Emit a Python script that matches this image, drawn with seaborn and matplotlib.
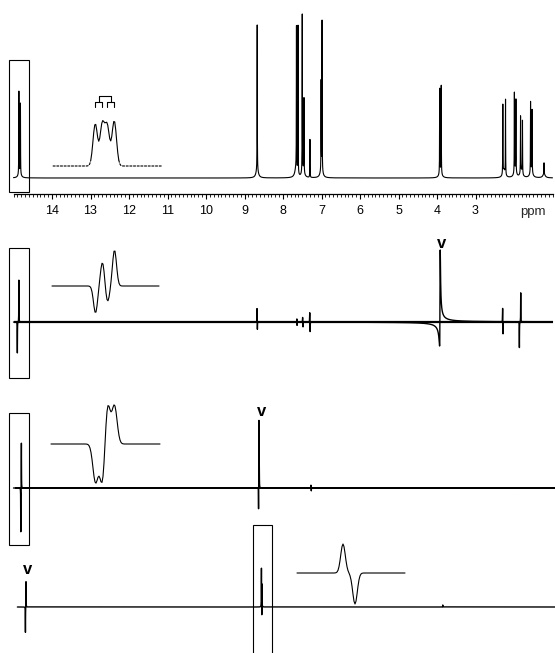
import numpy as np
import matplotlib
matplotlib.use("Agg")
import matplotlib.pyplot as plt
import seaborn as sns
from matplotlib.patches import Rectangle
from matplotlib.ticker import FixedLocator

# ---------------- data ----------------
# top trace: 1H spectrum, line positions (ppm) and heights
h1_ppm = [14.86, 14.82, 8.67, 7.65, 7.61, 7.50, 7.455, 7.30, 7.01, 6.985,
          3.93, 3.89, 2.29, 2.22, 1.99, 1.95, 1.83, 1.78, 1.57, 1.53, 1.22]
h1_int = [82, 70, 145, 142, 148, 157, 74, 38, 88, 149,
          84, 87, 69, 75, 79, 72, 56, 53, 70, 62, 11]
# broad feet under the multiplets
foot_ppm = [14.84, 8.67, 7.66, 7.48, 7.0, 3.91, 2.26, 1.97, 1.81, 1.55, 1.22]
foot_int = [6, 8, 10, 8, 9, 7, 8, 8, 7, 8, 4]

# selective experiments (signed line intensities)
sel1_ppm = [14.90, 14.86, 8.675, 8.665, 7.64, 7.635, 7.49, 7.48,
            7.305, 7.295, 2.295, 2.285, 1.86, 1.825]
sel1_int = [-31, 42, 14, -8, 4, -4, 5, -5, 10, -10, 14, -13, -26, 29]
disp_ppm, disp_int = 3.92, 72      # phase-distorted signal, marked "v"

sel2_ppm = [14.81, 14.795, 8.635, 8.625, 8.615, 7.275, 7.265]
sel2_int = [-45, 46, -25, 68, 18, 3, -3]

sel3_ppm = [14.69, 14.675, 8.56, 8.55, 8.545, 3.85]
sel3_int = [-26, 26, 39, -15, 25, 2]

# expansions of the 14.86 ppm multiplet (offset in Hz)
mult_hz = [-9.5, -2.5, 2.5, 9.5]
exp1_int = [42, 41, 39, 45]
exp2_int = [-27, 24, -16, 36]
exp3_int = [-38, -42, 42, 38]
# expansion of the 8.6 ppm multiplet
mult4_hz = [-6, 6]
exp4_int = [29, -31]

# excitation windows (ppm)
win1 = (15.11, 14.60)
win4 = (8.78, 8.29)

tick_major = list(range(3, 15))

# ---------------- layout ----------------
W, H = 555, 653
PX14, PX_PER_PPM = 52, 38.5
ppm_left = 14 + PX14 / PX_PER_PPM
ppm_right = 14 - (W - PX14) / PX_PER_PPM

sns.set_style("white")
plt.rcParams["font.family"] = ["Liberation Sans", "DejaVu Sans"]

fig = plt.figure(figsize=(W / 100, H / 100), dpi=100)


def panel(base_row):
    ax = fig.add_axes([0, 0, 1, 1])
    ax.patch.set_visible(False)
    return ax, base_row


def finish(ax, base_row, xlim):
    ax.set_xlim(*xlim)
    ax.set_ylim(base_row - H, base_row)


def lorentz(x, pos, amp, w):
    d = x[:, None] - np.asarray(pos, float)[None, :]
    return (np.asarray(amp, float) * w ** 2 / (d ** 2 + w ** 2)).sum(axis=1)


def gauss(x, pos, amp, s):
    d = x[:, None] - np.asarray(pos, float)[None, :]
    return (np.asarray(amp, float) * np.exp(-0.5 * (d / s) ** 2)).sum(axis=1)


def mixed(x, p0, h, w, phi):
    dx = p0 - x
    g = (np.cos(phi) * w ** 2 + np.sin(phi) * w * dx) / (w ** 2 + dx ** 2)
    return h * g / ((1 + np.cos(phi)) / 2)


def trace(ax, x, y, lw, **kw):
    sns.lineplot(x=x, y=y, ax=ax, color="black", linewidth=lw,
                 estimator=None, sort=False, **kw)


def ppm_grid(pos, start=1.0):
    return np.union1d(np.arange(start, 15.0005, 0.001), pos)


def box(ax, win, top, bottom):
    ax.add_patch(Rectangle((win[1], bottom), win[0] - win[1], top - bottom,
                           fill=False, ec="black", lw=0.8, clip_on=False))


def vmark(ax, ppm, y):
    ax.text(ppm, y, "v", ha="center", va="center", fontsize=12,
            fontweight="bold", color="black")


# ---- panel 1: 1H spectrum with ppm scale
ax1, b1 = panel(178)
x = ppm_grid(h1_ppm + foot_ppm)
y = lorentz(x, h1_ppm, h1_int, 0.003) + lorentz(x, foot_ppm, foot_int, 0.035)
trace(ax1, x, y, 0.8)
box(ax1, win1, 118, -14)
finish(ax1, b1, (ppm_left, ppm_right))
for s in ["top", "left", "right"]:
    ax1.spines[s].set_visible(False)
ax1.spines["bottom"].set_position(("data", -16))
ax1.spines["bottom"].set_bounds(15.0, 1.0)
ax1.spines["bottom"].set_linewidth(0.9)
ax1.spines["bottom"].set_color("black")
ax1.xaxis.set_major_locator(FixedLocator(tick_major))
ax1.xaxis.set_minor_locator(FixedLocator(np.round(np.arange(1.0, 15.01, 0.1), 1)))
ax1.set_xticklabels([str(t) for t in tick_major])
ax1.tick_params(axis="x", which="both", bottom=True, direction="out", color="black")
ax1.tick_params(axis="x", which="major", length=3.8, width=0.8,
                pad=4.0, labelsize=9, labelcolor="black")
ax1.tick_params(axis="x", which="minor", length=2.2, width=0.6)
ax1.set_yticks([])
ax1.set_xlabel("")
ax1.set_ylabel("")
ax1.text(1.5, -16 - 11.6, "ppm", ha="center", va="top", fontsize=9.5)

# inset 1: expanded multiplet + coupling tree
ai1 = fig.add_axes([0, 0, 1, 1])
ai1.set_axis_off()
c1, r1 = 104.75, 166
off = np.arange(-52, 57.5, 1.0)
e1 = gauss(off, mult_hz, exp1_int, 2.25)
core = np.abs(off) <= 14
trace(ai1, off[core], e1[core], 0.8)
trace(ai1, off[off <= -14], e1[off <= -14], 0.8, dashes=(2.5, 0.8))
trace(ai1, off[off >= 14], e1[off >= 14], 0.8, dashes=(2.5, 0.8))
sub = [(mult_hz[0] + mult_hz[1]) / 2, (mult_hz[2] + mult_hz[3]) / 2]
ai1.plot([sub[0], sub[1]], [70, 70], color="k", lw=0.8)
for s in sub:
    ai1.plot([s, s], [70, 64], color="k", lw=0.8)
for a, b in [(mult_hz[0], mult_hz[1]), (mult_hz[2], mult_hz[3])]:
    ai1.plot([a, b], [64, 64], color="k", lw=0.8)
    ai1.plot([a, a], [64, 58.5], color="k", lw=0.8)
    ai1.plot([b, b], [64, 58.5], color="k", lw=0.8)
ai1.set_xlim(-c1, W - c1)
ai1.set_ylim(r1 - H, r1)

# ---- panel 2
ax2, b2 = panel(322)
ax2.set_axis_off()
x = ppm_grid(sel1_ppm + [disp_ppm])
y = lorentz(x, sel1_ppm, sel1_int, 0.0025) + mixed(x, disp_ppm, disp_int, 0.007, np.pi / 3)
trace(ax2, x, y, 1.0)
ax2.hlines(0, 15.0, 1.0, color="black", lw=1.6)
box(ax2, win1, 74, -56)
vmark(ax2, disp_ppm - 0.05, 79)
finish(ax2, b2, (ppm_left, ppm_right))

ai2 = fig.add_axes([0, 0, 1, 1])
ai2.set_axis_off()
c2, r2 = 105, 286
off = np.arange(-53, 54.5, 1.0)
trace(ai2, off, gauss(off, mult_hz, exp2_int, 2.0), 0.8)
ai2.set_xlim(-c2, W - c2)
ai2.set_ylim(r2 - H, r2)

# ---- panel 3
ax3, b3 = panel(488)
ax3.set_axis_off()
x = ppm_grid(sel2_ppm, start=0.9)
trace(ax3, x, lorentz(x, sel2_ppm, sel2_int, 0.0025), 1.0)
ax3.hlines(0, 14.95, 0.9, color="black", lw=1.4)
box(ax3, win1, 75, -57)
vmark(ax3, 8.56, 76)
finish(ax3, b3, (ppm_left, ppm_right))

ai3 = fig.add_axes([0, 0, 1, 1])
ai3.set_axis_off()
c3, r3 = 105, 444
off = np.arange(-54, 55.5, 1.0)
trace(ai3, off, gauss(off, mult_hz, exp3_int, 2.6), 0.8)
ai3.set_xlim(-c3, W - c3)
ai3.set_ylim(r3 - H, r3)

# ---- panel 4
ax4, b4 = panel(607)
ax4.set_axis_off()
x = np.union1d(np.arange(0.9, 14.9, 0.001), sel3_ppm)
trace(ax4, x, lorentz(x, sel3_ppm, sel3_int, 0.0025), 1.0)
box(ax4, win4, 82, -60)
vmark(ax4, 14.64, 37)
finish(ax4, b4, (ppm_left, ppm_right))

ai4 = fig.add_axes([0, 0, 1, 1])
ai4.set_axis_off()
c4, r4 = 349, 573
off = np.arange(-52, 56.5, 1.0)
trace(ai4, off, gauss(off, mult4_hz, exp4_int, 2.3), 0.8)
ai4.set_xlim(-c4, W - c4)
ai4.set_ylim(r4 - H, r4)

fig.savefig("out.png", dpi=100)
